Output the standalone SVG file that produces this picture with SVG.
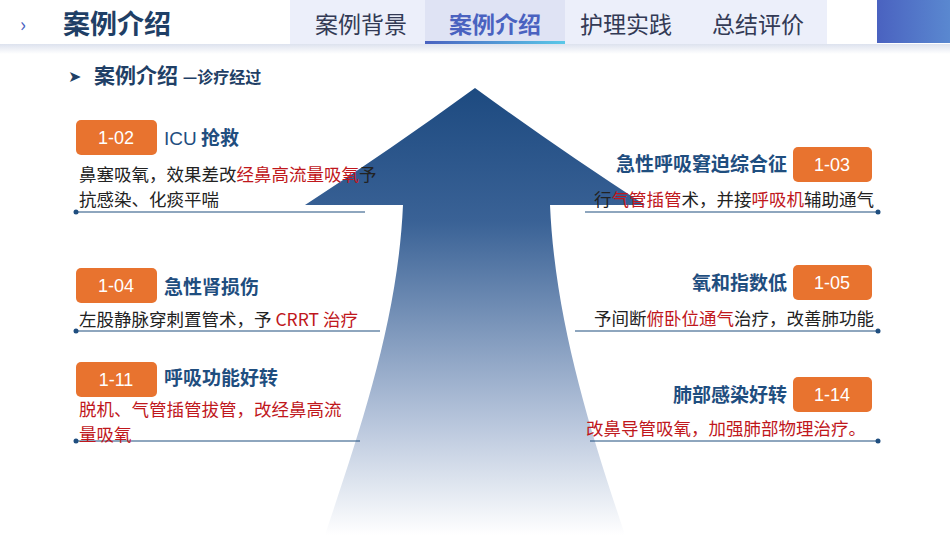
<svg xmlns="http://www.w3.org/2000/svg" width="950" height="535" viewBox="0 0 950 535">
<defs>
<linearGradient id="ag" x1="0" y1="0" x2="0" y2="1"><stop offset="0" stop-color="#1d4a80"/><stop offset="0.3" stop-color="#3a6296"/><stop offset="0.75" stop-color="#b8c6dc"/><stop offset="1" stop-color="#ffffff"/></linearGradient>
<linearGradient id="ul" x1="0" x2="1"><stop offset="0" stop-color="#4a62c0"/><stop offset="1" stop-color="#5ac8e8"/></linearGradient>
<linearGradient id="rb" x1="0" x2="1"><stop offset="0" stop-color="#4a62c0"/><stop offset="1" stop-color="#5a88d0"/></linearGradient>
<linearGradient id="sh" x1="0" y1="0" x2="0" y2="1"><stop offset="0" stop-color="#dde2ee"/><stop offset="1" stop-color="#ffffff"/></linearGradient>
</defs>
<style>
text{font-family:"Noto Sans CJK SC","Liberation Sans",sans-serif}
.box{fill:#e8732f}
.bt{fill:#fff;font-size:18px;font-family:"Liberation Sans",sans-serif;text-anchor:middle}
.hd{fill:#1f4e7f;font-size:19px;font-weight:bold}
.tx{fill:#222;font-size:17.5px}
.r{fill:#c0171c}
.ln{stroke:#1f4e7f;stroke-width:1.2}
.dot{fill:#1f4e7f}
.tab{font-size:23px;fill:#333a55}
</style>
<rect width="950" height="535" fill="#fff"/>
<rect x="0" y="44" width="950" height="10" fill="url(#sh)"/>
<rect x="290" y="0" width="537" height="44" fill="#eceffa"/>
<rect x="425" y="0" width="140" height="44" fill="#dfe3f4"/>
<rect x="425" y="41" width="140" height="3" fill="url(#ul)"/>
<rect x="877" y="0" width="73" height="43" fill="url(#rb)"/>
<text x="20" y="32" font-size="20" fill="#4a62c0" font-family="Liberation Sans">›</text>
<text x="63" y="34" font-size="27" font-weight="bold" fill="#1f3f66">案例介绍</text>
<text x="315" y="33" class="tab">案例背景</text>
<text x="449" y="33" class="tab" style="fill:#4a62c0;font-weight:bold">案例介绍</text>
<text x="580" y="33" class="tab">护理实践</text>
<text x="712" y="33" class="tab">总结评价</text>
<text x="68" y="82" font-size="16" fill="#1f3f66" font-family="DejaVu Sans">➤</text>
<text x="94" y="83" font-size="21" font-weight="bold" fill="#1f3f66">案例介绍 <tspan font-size="16">—诊疗经过</tspan></text>
<g id="arrow"><path d="M475,88 Q560,150 645,205 L550,205 C555,320 590,430 625,535 L325,535 C360,430 398,320 403,205 L305,205 Q390,150 475,88 Z" fill="url(#ag)"/></g>
<g id="connectors">
<line class="ln" x1="76" y1="212" x2="365" y2="212"/><circle class="dot" cx="76" cy="212" r="2.5"/>
<line class="ln" x1="76" y1="331" x2="380" y2="331"/><circle class="dot" cx="76" cy="331" r="2.5"/>
<line class="ln" x1="76" y1="441" x2="360" y2="441"/><circle class="dot" cx="76" cy="441" r="2.5"/>
<line class="ln" x1="585" y1="212" x2="878" y2="212"/><circle class="dot" cx="878" cy="212" r="2.5"/>
<line class="ln" x1="575" y1="331" x2="878" y2="331"/><circle class="dot" cx="878" cy="331" r="2.5"/>
<line class="ln" x1="590" y1="441" x2="878" y2="441"/><circle class="dot" cx="878" cy="441" r="2.5"/>
</g>
<g id="n102"><rect class="box" x="76" y="120" width="81" height="35" rx="5"/><text class="bt" x="116" y="144">1-02</text>
<text class="hd" x="164" y="145"><tspan font-family="Liberation Sans" font-weight="normal">ICU</tspan> 抢救</text>
<text class="tx" x="79" y="181">鼻塞吸氧，效果差改<tspan class="r">经鼻高流量吸氧</tspan>予</text>
<text class="tx" x="79" y="206">抗感染、化痰平喘</text></g>
<g id="n104"><rect class="box" x="76" y="268" width="81" height="35" rx="5"/><text class="bt" x="116" y="292">1-04</text>
<text class="hd" x="164" y="294">急性肾损伤</text>
<text class="tx" x="79" y="326">左股静脉穿刺置管术，予 <tspan class="r">CRRT 治疗</tspan></text></g>
<g id="n111"><rect class="box" x="76" y="362" width="81" height="35" rx="5"/><text class="bt" x="116" y="386">1-11</text>
<text class="hd" x="164" y="385">呼吸功能好转</text>
<text class="tx r" x="79" y="416">脱机、气管插管拔管，改经鼻高流</text>
<text class="tx r" x="79" y="441">量吸氧</text></g>
<g id="n103"><rect class="box" x="793" y="147" width="79" height="35" rx="5"/><text class="bt" x="832" y="171">1-03</text>
<text class="hd" x="787" y="171" text-anchor="end">急性呼吸窘迫综合征</text>
<text class="tx" x="874" y="206" text-anchor="end">行<tspan class="r">气管插管</tspan>术，并接<tspan class="r">呼吸机</tspan>辅助通气</text></g>
<g id="n105"><rect class="box" x="793" y="265" width="79" height="35" rx="5"/><text class="bt" x="832" y="289">1-05</text>
<text class="hd" x="787" y="290" text-anchor="end">氧和指数低</text>
<text class="tx" x="874" y="325" text-anchor="end">予间断<tspan class="r">俯卧位通气</tspan>治疗，改善肺功能</text></g>
<g id="n114"><rect class="box" x="793" y="377" width="79" height="35" rx="5"/><text class="bt" x="832" y="401">1-14</text>
<text class="hd" x="787" y="402" text-anchor="end">肺部感染好转</text>
<text class="tx r" x="866" y="435" text-anchor="end">改鼻导管吸氧，加强肺部物理治疗。</text></g>
</svg>
